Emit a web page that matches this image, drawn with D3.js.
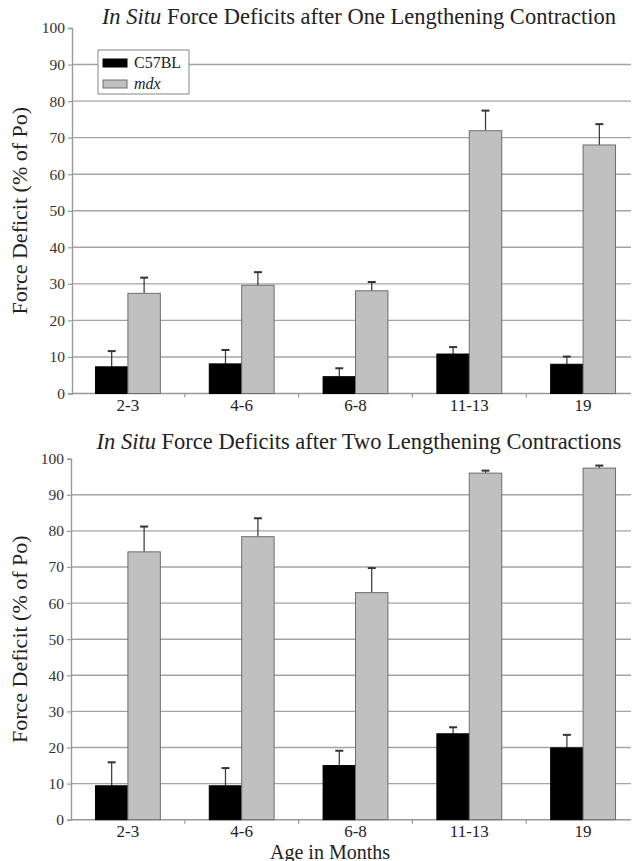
<!DOCTYPE html>
<html>
<head>
<meta charset="utf-8">
<script src="https://cdn.jsdelivr.net/npm/d3@7"></script>
<style>
  body { margin: 0; background: #fff; }
  svg { display: block; }
  svg text { font-family: "Liberation Serif", "Times New Roman", serif; }
</style>
</head>
<body>
<svg id="chart" width="634" height="861"></svg>
<script>
// ages and the two strains
var ages = ["2-3", "4-6", "6-8", "11-13", "19"];
var strains = ["C57BL", "mdx"];

// one lengthening contraction (% of Po), mean and upper SE
var oneC57 = [7.3, 8.1, 4.6, 10.8, 8.0];
var oneC57Err = [4.3, 3.8, 2.3, 1.9, 2.1];
var oneMdx = [27.4, 29.6, 28.1, 71.9, 68.0];
var oneMdxErr = [4.3, 3.6, 2.4, 5.5, 5.7];

// two lengthening contractions
var twoC57 = [9.4, 9.4, 15.0, 23.8, 19.9];
var twoC57Err = [6.5, 4.9, 4.1, 1.8, 3.6];
var twoMdx = [74.2, 78.4, 62.9, 96.0, 97.4];
var twoMdxErr = [7.0, 5.1, 6.8, 0.7, 0.7];

var yTicks = [0, 10, 20, 30, 40, 50, 60, 70, 80, 90, 100];

var fills = { "C57BL": "#000000", "mdx": "#c0c0c0" };

var svg = d3.select("#chart");

var x0 = d3.scaleBand().domain(ages).range([71, 640]).paddingInner(0.43).paddingOuter(0.215);
var x1 = d3.scaleBand().domain(strains).range([0, x0.bandwidth()]);
var gridRight = 631;

function drawPanel(opts) {
    var y = d3.scaleLinear().domain([0, 100]).range([opts.bottom, opts.top]);
    var g = svg.append("g");

    // gridlines (no line at 100)
    g.selectAll("line.grid")
        .data(yTicks.filter(function(d) { return d > 0 && d < 100; }))
        .enter().append("line")
        .attr("class", "grid")
        .attr("x1", opts.left).attr("x2", gridRight)
        .attr("y1", function(d) { return y(d); })
        .attr("y2", function(d) { return y(d); })
        .attr("stroke", "#a4a4a4")
        .attr("stroke-width", 1.4);

    // y axis
    var yAxis = g.append("g")
        .attr("transform", "translate(" + opts.left + ",0)")
        .call(d3.axisLeft(y).tickValues(yTicks).tickSize(4).tickPadding(3));
    yAxis.select(".domain").attr("stroke", "#999").attr("stroke-width", 1.4);
    yAxis.selectAll(".tick line").attr("stroke", "#999").attr("stroke-width", 1.2);
    yAxis.selectAll(".tick text")
        .attr("font-size", 15.5).attr("fill", "#333");

    // x axis line and boundary ticks
    g.append("line")
        .attr("x1", opts.left).attr("x2", gridRight)
        .attr("y1", y(0)).attr("y2", y(0))
        .attr("stroke", "#999").attr("stroke-width", 1.4);
    g.selectAll("line.xtick")
        .data(ages.slice(1))
        .enter().append("line")
        .attr("class", "xtick")
        .attr("x1", function(d) { return x0(d) - x0.step() * x0.paddingInner() / 2; })
        .attr("x2", function(d) { return x0(d) - x0.step() * x0.paddingInner() / 2; })
        .attr("y1", y(0)).attr("y2", y(0) + 4)
        .attr("stroke", "#999").attr("stroke-width", 1.2);

    g.selectAll("text.xlab")
        .data(ages)
        .enter().append("text")
        .attr("class", "xlab")
        .attr("x", function(d) { return x0(d) + x0.bandwidth() / 2; })
        .attr("y", y(0) + 17)
        .attr("text-anchor", "middle")
        .attr("font-size", 17).attr("fill", "#222")
        .text(function(d) { return d; });

    // bars
    var rows = [];
    ages.forEach(function(a, i) {
        rows.push({ age: a, strain: "C57BL", v: opts.c57[i], e: opts.c57Err[i] });
        rows.push({ age: a, strain: "mdx", v: opts.mdx[i], e: opts.mdxErr[i] });
    });

    // error bars (upper only), drawn under the bars
    var eb = g.selectAll("g.err").data(rows).enter().append("g").attr("class", "err");
    eb.append("line")
        .attr("x1", function(d) { return x0(d.age) + x1(d.strain) + x1.bandwidth() / 2; })
        .attr("x2", function(d) { return x0(d.age) + x1(d.strain) + x1.bandwidth() / 2; })
        .attr("y1", function(d) { return y(d.v); })
        .attr("y2", function(d) { return y(d.v + d.e); })
        .attr("stroke", "#333").attr("stroke-width", 1.2);
    eb.append("line")
        .attr("x1", function(d) { return x0(d.age) + x1(d.strain) + x1.bandwidth() / 2 - 4; })
        .attr("x2", function(d) { return x0(d.age) + x1(d.strain) + x1.bandwidth() / 2 + 4; })
        .attr("y1", function(d) { return y(d.v + d.e); })
        .attr("y2", function(d) { return y(d.v + d.e); })
        .attr("stroke", "#333").attr("stroke-width", 2);

    g.selectAll("rect.bar")
        .data(rows)
        .enter().append("rect")
        .attr("class", "bar")
        .attr("x", function(d) { return x0(d.age) + x1(d.strain); })
        .attr("y", function(d) { return y(d.v); })
        .attr("width", x1.bandwidth())
        .attr("height", function(d) { return y(0) - y(d.v); })
        .attr("fill", function(d) { return fills[d.strain]; })
        .attr("stroke", function(d) { return d.strain == "mdx" ? "#6e6e6e" : "#000"; })
        .attr("stroke-width", 1);

    // title
    var t = g.append("text")
        .attr("x", 359).attr("y", opts.titleY)
        .attr("text-anchor", "middle")
        .attr("font-size", 22.5).attr("fill", "#222");
    t.append("tspan").attr("font-style", "italic").text("In Situ");
    t.append("tspan").text(" " + opts.title);

    // y label
    g.append("text")
        .attr("transform", "translate(27," + ((opts.top + opts.bottom) / 2) + ") rotate(-90)")
        .attr("text-anchor", "middle")
        .attr("font-size", 22).attr("fill", "#222")
        .text("Force Deficit (% of Po)");

    return y;
}

drawPanel({
    top: 28, bottom: 393.5, left: 72, titleY: 24,
    title: "Force Deficits after One Lengthening Contraction",
    c57: oneC57, c57Err: oneC57Err, mdx: oneMdx, mdxErr: oneMdxErr
});

drawPanel({
    top: 458.7, bottom: 819.7, left: 71, titleY: 449,
    title: "Force Deficits after Two Lengthening Contractions",
    c57: twoC57, c57Err: twoC57Err, mdx: twoMdx, mdxErr: twoMdxErr
});

// legend (top panel)
var leg = svg.append("g");
leg.append("rect")
    .attr("x", 98).attr("y", 50).attr("width", 91).attr("height", 44)
    .attr("fill", "#fff").attr("stroke", "#999").attr("stroke-width", 1.2);
strains.forEach(function(s, i) {
    leg.append("rect")
        .attr("x", 103).attr("y", 59 + i * 21).attr("width", 24).attr("height", 8)
        .attr("fill", fills[s]).attr("stroke", s == "mdx" ? "#6e6e6e" : "#000");
    leg.append("text")
        .attr("x", 134).attr("y", 68 + i * 21)
        .attr("font-size", 16).attr("fill", "#222")
        .attr("font-style", s == "mdx" ? "italic" : "normal")
        .text(s);
});

svg.append("text")
    .attr("x", 330).attr("y", 858.5)
    .attr("text-anchor", "middle")
    .attr("font-size", 20).attr("fill", "#222")
    .text("Age in Months");
</script>
</body>
</html>
